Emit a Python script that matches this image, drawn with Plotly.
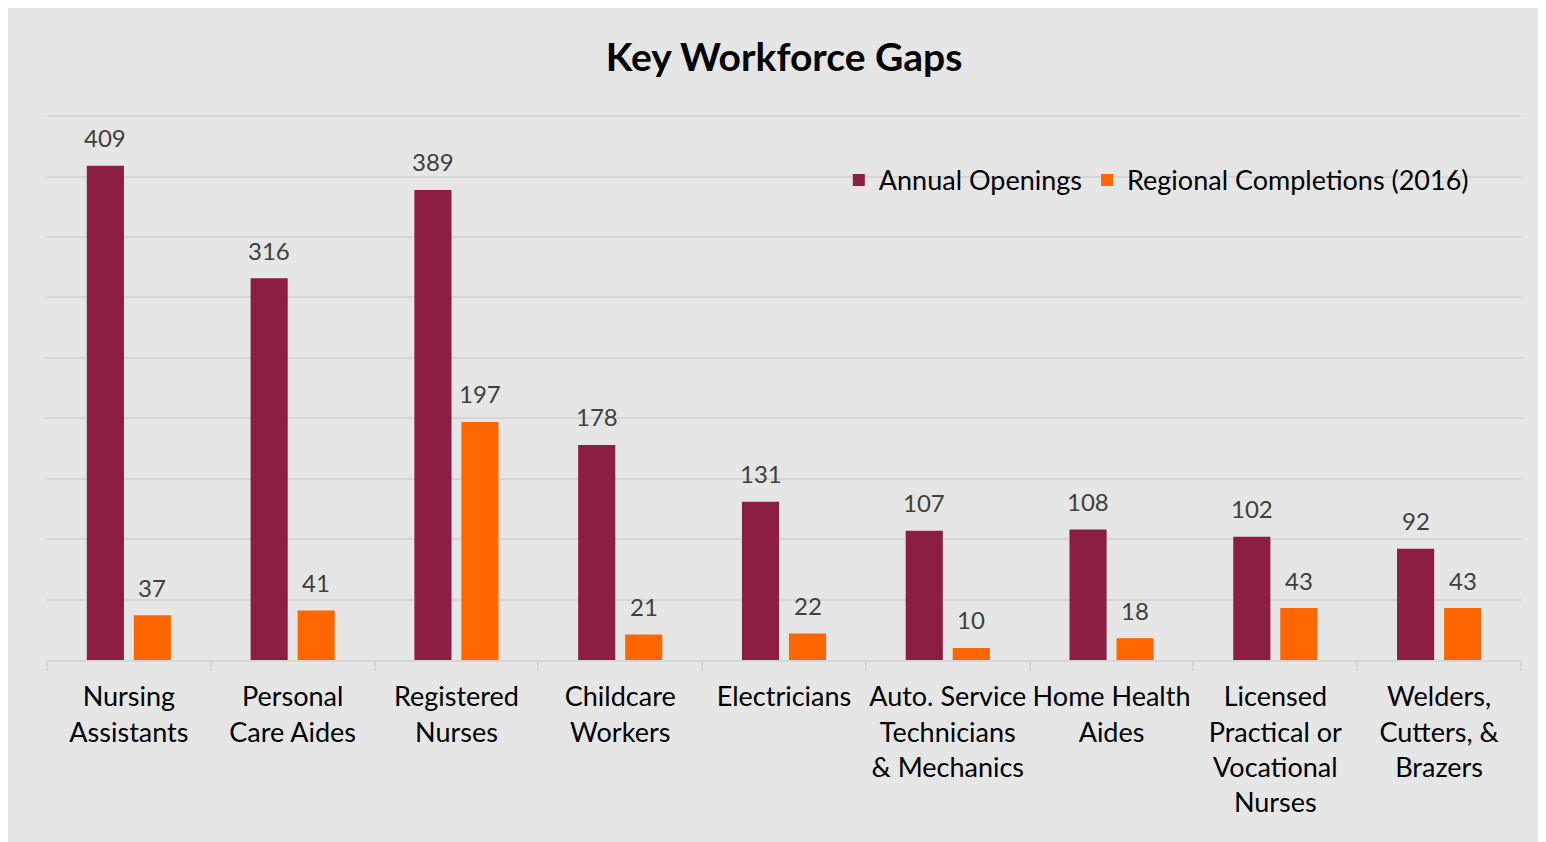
import plotly.graph_objects as go

# data
occupations = [
    'Nursing<br>Assistants',
    'Personal<br>Care Aides',
    'Registered<br>Nurses',
    'Childcare<br>Workers',
    'Electricians',
    'Auto. Service<br>Technicians<br>& Mechanics',
    'Home Health<br>Aides',
    'Licensed<br>Practical or<br>Vocational<br>Nurses',
    'Welders,<br>Cutters, &<br>Brazers',
]
annual_openings = [409, 316, 389, 178, 131, 107, 108, 102, 92]
regional_completions = [37, 41, 197, 21, 22, 10, 18, 43, 43]

FONT = 'Lato'
BG = '#E6E6E6'
GRID = '#D6D6D6'
LABEL = '#404040'

fig = go.Figure()

# 1. Annual openings bars
fig.add_trace(go.Bar(
    x=occupations,
    y=annual_openings,
    name='Annual Openings',
    marker=dict(color='#8B1E41', line=dict(width=0)),
    cliponaxis=False
))

# 2. Regional completions bars
fig.add_trace(go.Bar(
    x=occupations,
    y=regional_completions,
    name='Regional Completions (2016)',
    marker=dict(color='#FF6600', line=dict(width=0)),
    cliponaxis=False
))

# data labels above each bar (annotations so the gap can match the original)
for vals, shift in ((annual_openings, -23.5), (regional_completions, 23.5)):
    for cat, v in zip(occupations, vals):
        fig.add_annotation(
            x=cat, y=v, text=str(v), showarrow=False,
            xshift=shift, yshift=28, yanchor='middle',
            font=dict(family=FONT, size=24, color=LABEL)
        )

# page body has an 8px margin, so the margins below are shifted by that much
fig.update_layout(
    width=1546, height=842,
    title=dict(
        text='<b>Key Workforce Gaps</b>',
        x=0.5, xref='paper', xanchor='center',
        y=1 - 49 / 842, yanchor='middle',
        font=dict(family=FONT, size=39, color='#000000')
    ),
    barmode='group',
    bargap=0.426,
    bargroupgap=0.21,
    paper_bgcolor=BG,
    plot_bgcolor=BG,
    margin=dict(l=39, r=33, t=107, b=190),
    font=dict(family=FONT, color='#000000'),
    legend=dict(
        orientation='h',
        x=0.968, xanchor='right',
        y=0.88, yanchor='middle',
        bgcolor='rgba(0,0,0,0)',
        font=dict(family=FONT, size=27, color='#000000'),
        itemwidth=30,
        traceorder='normal'
    ),
    showlegend=True
)

fig.update_xaxes(
    showline=True, linecolor=GRID, linewidth=2,
    ticks='outside', tickson='boundaries', ticklen=9,
    tickcolor=GRID, tickwidth=2,
    tickangle=0,
    ticklabelstandoff=12,
    tickfont=dict(family=FONT, size=27, color='#000000'),
    showgrid=False
)
fig.update_yaxes(
    range=[0, 451], dtick=50,
    showgrid=True, gridcolor=GRID, gridwidth=2,
    showticklabels=False, zeroline=False, showline=False
)

fig.write_html('out.html')
